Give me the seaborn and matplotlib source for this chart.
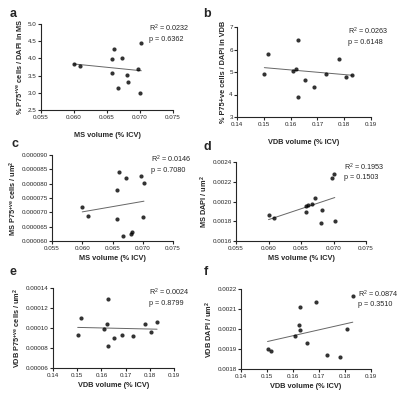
import matplotlib
matplotlib.use("Agg")
import matplotlib.pyplot as plt
import seaborn as sns
import numpy as np
import pandas as pd
from matplotlib.ticker import FormatStrFormatter

# ---------------- data ----------------
ms_volume = [0.0600, 0.0609, 0.0657, 0.0658, 0.0661, 0.0667, 0.0672, 0.0680, 0.0682, 0.0697, 0.0700, 0.0702]
ms_p75_pct = [3.85, 3.77, 3.57, 3.97, 4.27, 3.13, 4.02, 3.52, 3.31, 3.69, 3.00, 4.44]
ms_p75_density = [0.0000718, 0.0000687, 0.0000677, 0.0000777, 0.0000839, 0.0000616, 0.0000819,
                  0.0000626, 0.0000632, 0.0000826, 0.0000685, 0.0000804]
ms_dapi_density = [0.001863, 0.001829, 0.001890, 0.001954, 0.001961, 0.001975, 0.002032,
                   0.001782, 0.001910, 0.002235, 0.002282, 0.001806]

vdb_volume = [0.1502, 0.1517, 0.1609, 0.1622, 0.1626, 0.1627, 0.1653, 0.1687, 0.1732, 0.1781, 0.1807, 0.1830]
vdb_p75_pct = [4.90, 5.81, 5.03, 5.13, 3.89, 6.42, 4.66, 4.33, 4.90, 5.58, 4.79, 4.85]
vdb_p75_density = [0.0000930, 0.0001103, 0.0000987, 0.0001037, 0.0000821, 0.0001290, 0.0000896,
                   0.0000930, 0.0000917, 0.0001037, 0.0000960, 0.0001056]
vdb_dapi_density = [0.001900, 0.001889, 0.001964, 0.002018, 0.001995, 0.002110, 0.001928,
                    0.002134, 0.001868, 0.001858, 0.002000, 0.002166]

panel_letters = ["a", "b", "c", "d", "e", "f"]
stats_text = ["R$^2$ = 0.0232\np = 0.6362", "R$^2$ = 0.0263\np = 0.6148",
              "R$^2$ = 0.0146\np = 0.7080", "R$^2$ = 0.1953\np = 0.1503",
              "R$^2$ = 0.0024\np = 0.8799", "R$^2$ = 0.0874\np = 0.3510"]
x_labels = ["MS volume (% ICV)", "VDB volume (% ICV)", "MS volume (% ICV)",
            "MS volume (% ICV)", "VDB volume (% ICV)", "VDB volume (% ICV)"]
y_labels = ["% P75$^{+ve}$ cells / DAPI in MS", "% P75+ve cells / DAPI in VDB",
            "MS P75$^{+ve}$ cells / um$^2$", "MS DAPI / um$^2$",
            "VDB P75$^{+ve}$ cells / um$^2$", "VDB DAPI / um$^2$"]

# ---------------- style ----------------
sns.set_style("ticks")
plt.rcParams["font.family"] = ["Liberation Sans", "DejaVu Sans"]
plt.rcParams["axes.linewidth"] = 0.8
plt.rcParams["xtick.major.width"] = 0.8
plt.rcParams["ytick.major.width"] = 0.8
plt.rcParams["xtick.major.size"] = 2.0
plt.rcParams["ytick.major.size"] = 2.0
plt.rcParams["xtick.major.pad"] = 1.5
plt.rcParams["ytick.major.pad"] = 1.0
plt.rcParams["mathtext.default"] = "regular"

W, H = 398, 400
fig = plt.figure(figsize=(W / 100, H / 100), dpi=100)

def add_ax(l, t, r, b):
    return fig.add_axes([l / W, 1 - b / H, (r - l) / W, (b - t) / H])

# pixel boxes (left, top, right, bottom)
boxes = [(41, 24, 173, 110), (237, 27, 371, 117),
         (52, 155, 173, 241), (236, 162, 366, 241),
         (53, 288, 174, 368), (241, 289, 371, 369)]

xs = [ms_volume, vdb_volume, ms_volume, ms_volume, vdb_volume, vdb_volume]
ys = [ms_p75_pct, vdb_p75_pct, ms_p75_density, ms_dapi_density, vdb_p75_density, vdb_dapi_density]
xlims = [(0.055, 0.075), (0.14, 0.19), (0.055, 0.075), (0.055, 0.075), (0.14, 0.19), (0.14, 0.19)]
xticks = [np.arange(0.055, 0.0751, 0.005), np.arange(0.14, 0.191, 0.01),
          np.arange(0.055, 0.0751, 0.005), np.arange(0.055, 0.0751, 0.005),
          np.arange(0.14, 0.191, 0.01), np.arange(0.14, 0.191, 0.01)]
xfmts = ["%.3f", "%.2f", "%.3f", "%.3f", "%.2f", "%.2f"]
ylims = [(2.5, 5.0), (3, 7), (0.000060, 0.000090), (0.0016, 0.0024), (0.00006, 0.00014), (0.0018, 0.0022)]
yticks = [np.arange(2.5, 5.01, 0.5), np.arange(3, 7.1, 1),
          np.arange(0.000060, 0.0000901, 0.000005), np.arange(0.0016, 0.00241, 0.0002),
          np.arange(0.00006, 0.000141, 0.00002), np.arange(0.0018, 0.00221, 0.0001)]
yfmts = ["%.1f", "%d", "%.6f", "%.4f", "%.5f", "%.4f"]
xlabel_pads = [9, 9, 3, 3, 3, 3]
letter_pos = [(10, 14), (203, 14), (11, 144), (203, 147), (10, 272), (204, 272)]
stats_x = [0.82, 0.83, 0.82, 0.83, 0.79, 0.90]

for i in range(6):
    ax = add_ax(*boxes[i])
    df = pd.DataFrame({"x": xs[i], "y": ys[i]})
    sns.regplot(data=df, x="x", y="y", ax=ax, ci=None, color="black",
                scatter_kws={"s": 9, "linewidths": 0, "zorder": 3},
                line_kws={"lw": 0.7, "color": "#666666"})
    ax.set_xlim(*xlims[i])
    ax.set_ylim(*ylims[i])
    ax.set_xticks(xticks[i])
    ax.set_yticks(yticks[i])
    ax.xaxis.set_major_formatter(FormatStrFormatter(xfmts[i]))
    ax.yaxis.set_major_formatter(FormatStrFormatter(yfmts[i]))
    ax.tick_params(labelsize=4.5)
    ax.set_xlabel(x_labels[i], fontsize=5.3, fontweight="bold", labelpad=xlabel_pads[i])
    ax.set_ylabel(y_labels[i], fontsize=5.3, fontweight="bold", labelpad=2)
    sns.despine(ax=ax)
    ax.text(stats_x[i], 1.01, stats_text[i], transform=ax.transAxes, fontsize=5.2,
            ha="left", va="top", linespacing=1.3)
    fig.text(letter_pos[i][0] / W, 1 - letter_pos[i][1] / H, panel_letters[i],
             fontsize=9, fontweight="bold", ha="left", va="center")

fig.savefig("out.png", dpi=100)
